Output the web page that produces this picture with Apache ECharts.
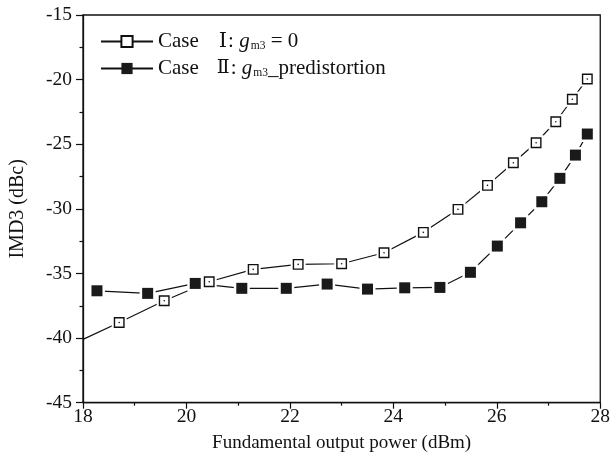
<!DOCTYPE html>
<html>
<head>
<meta charset="utf-8">
<script src="https://cdn.jsdelivr.net/npm/echarts@6/dist/echarts.min.js"></script>
<style>html,body{margin:0;padding:0;background:#fff}#c{width:613px;height:465px}</style>
</head>
<body>
<div id="c"></div>
<script>
// Case I (g_m3 = 0): first point is where the curve enters the plot (no marker)
var caseIX = [18.0, 18.70, 19.57, 20.44, 21.29, 22.16, 23.00, 23.82, 24.58, 25.25, 25.82, 26.32, 26.76, 27.14, 27.46, 27.75];
var caseIY = [-40.1, -38.79, -37.11, -35.64, -34.68, -34.30, -34.25, -33.40, -31.82, -30.04, -28.18, -26.43, -24.88, -23.26, -21.52, -19.95];
// Case II (g_m3 predistortion)
var caseIIX = [18.27, 19.25, 20.17, 21.07, 21.93, 22.72, 23.50, 24.22, 24.90, 25.49, 26.01, 26.46, 26.87, 27.22, 27.52, 27.75];
var caseIIY = [-36.34, -36.54, -35.77, -36.15, -36.15, -35.82, -36.21, -36.11, -36.08, -34.91, -32.88, -31.08, -29.45, -27.64, -25.84, -24.21];
var xTicks = [18, 20, 22, 24, 26, 28];
var yTicks = [-45, -40, -35, -30, -25, -20, -15];
var nameI = 'Case Ⅰ';
var nameII = 'Case Ⅱ';

function pairs(xs, ys) { return xs.map(function (x, i) { return [x, ys[i]]; }); }
var dI = pairs(caseIX, caseIY);
var dII = pairs(caseIIX, caseIIY);
var mI = dI.slice(1);
var lineI = dI.map(function (p, i) { return i === 0 ? { value: p, symbol: 'none' } : p; });

var FONT = 'Liberation Serif';
var chart = echarts.init(document.getElementById('c'));
chart.setOption({
  animation: false,
  backgroundColor: '#fff',
  grid: { left: 80, right: 11.5, top: 15, bottom: 62.3, show: true, borderColor: '#111', borderWidth: 1.3, backgroundColor: 'transparent' },
  legend: {
    data: [nameI, nameII],
    orient: 'vertical',
    left: 100, top: 31, padding: 0,
    itemWidth: 52, itemHeight: 14, itemGap: 6,
    textStyle: {
      fontFamily: FONT, fontSize: 21, color: '#111',
      rich: {
        t: { fontFamily: FONT, fontSize: 21, color: '#111', lineHeight: 23 },
        r1: { fontFamily: 'DejaVu Serif', fontSize: 21, color: '#111', lineHeight: 23, padding: [0, 1, 0, 20] },
        r2: { fontFamily: 'DejaVu Serif', fontSize: 19, color: '#111', lineHeight: 23, padding: [0, 1, 0, 18] },
        i: { fontFamily: FONT, fontSize: 21, fontStyle: 'italic', color: '#111', lineHeight: 23 },
        s: { fontFamily: FONT, fontSize: 11.5, color: '#111', lineHeight: 23, padding: [9, 0, 0, 1] }
      }
    },
    formatter: function (n) {
      if (n === nameI) return '{t|Case}{r1|Ⅰ}{t|: }{i|g}{s|m3}{t| = 0}';
      return '{t|Case}{r2|Ⅱ}{t|: }{i|g}{s|m3}{t|_predistortion}';
    }
  },
  xAxis: {
    type: 'value', min: 18, max: 28, interval: 2,
    name: 'Fundamental output power (dBm)', nameLocation: 'middle', nameGap: 31,
    nameTextStyle: { fontFamily: FONT, fontSize: 19, color: '#111' },
    axisLine: { show: true, onZero: false, lineStyle: { color: '#111', width: 1.3 } },
    axisTick: { show: true, inside: false, length: 6, lineStyle: { color: '#111', width: 1.2 } },
    minorTick: { show: true, splitNumber: 2, length: 3, lineStyle: { color: '#111', width: 1.2 } },
    splitLine: { show: false },
    axisLabel: { fontFamily: FONT, fontSize: 19.5, color: '#111', margin: 4,
      formatter: function (v) { return xTicks.indexOf(v) >= 0 ? String(v) : ''; } }
  },
  yAxis: {
    type: 'value', min: -45, max: -15, interval: 5,
    name: 'IMD3 (dBc)', nameLocation: 'middle', nameGap: 55, nameRotate: 90,
    nameTextStyle: { fontFamily: FONT, fontSize: 20, color: '#111' },
    axisLine: { show: true, onZero: false, lineStyle: { color: '#111', width: 1.3 } },
    axisTick: { show: true, inside: false, length: 7, lineStyle: { color: '#111', width: 1.2 } },
    minorTick: { show: true, splitNumber: 2, length: 3.5, lineStyle: { color: '#111', width: 1.2 } },
    splitLine: { show: false },
    axisLabel: { fontFamily: FONT, fontSize: 19.5, color: '#111', margin: 11,
      formatter: function (v) { return yTicks.indexOf(v) >= 0 ? String(v) : ''; } }
  },
  series: [
    { name: nameI, type: 'line', data: lineI, z: 2, symbol: 'rect', symbolSize: 10, showSymbol: true,
      lineStyle: { color: '#111', width: 1.2 },
      itemStyle: { color: '#fff', borderColor: '#111', borderWidth: 1.4 } },
    { name: nameII, type: 'line', data: dII, z: 2, symbol: 'rect', symbolSize: 11, showSymbol: true,
      lineStyle: { color: '#111', width: 1.2 },
      itemStyle: { color: '#1a1a1a', borderColor: '#1a1a1a', borderWidth: 0 } },
    // white masks create the small gaps between lines and markers
    { name: 'maskI', type: 'scatter', data: mI, z: 3, symbol: 'rect', symbolSize: 15, silent: true,
      itemStyle: { color: '#fff', opacity: 1 } },
    { name: 'maskII', type: 'scatter', data: dII, z: 3, symbol: 'rect', symbolSize: 16, silent: true,
      itemStyle: { color: '#fff', opacity: 1 } },
    { name: 'mkI', type: 'scatter', data: mI, z: 4, symbol: 'rect', symbolSize: 9.5, silent: true,
      itemStyle: { color: '#fff', borderColor: '#111', borderWidth: 1.4, opacity: 1 } },
    { name: 'dotI', type: 'scatter', data: mI, z: 5, symbol: 'circle', symbolSize: 1.6, silent: true,
      itemStyle: { color: '#111', opacity: 1 } },
    { name: 'mkII', type: 'scatter', data: dII, z: 4, symbol: 'rect', symbolSize: 11, silent: true,
      itemStyle: { color: '#1a1a1a', opacity: 1 } }
  ]
});
</script>
</body>
</html>
